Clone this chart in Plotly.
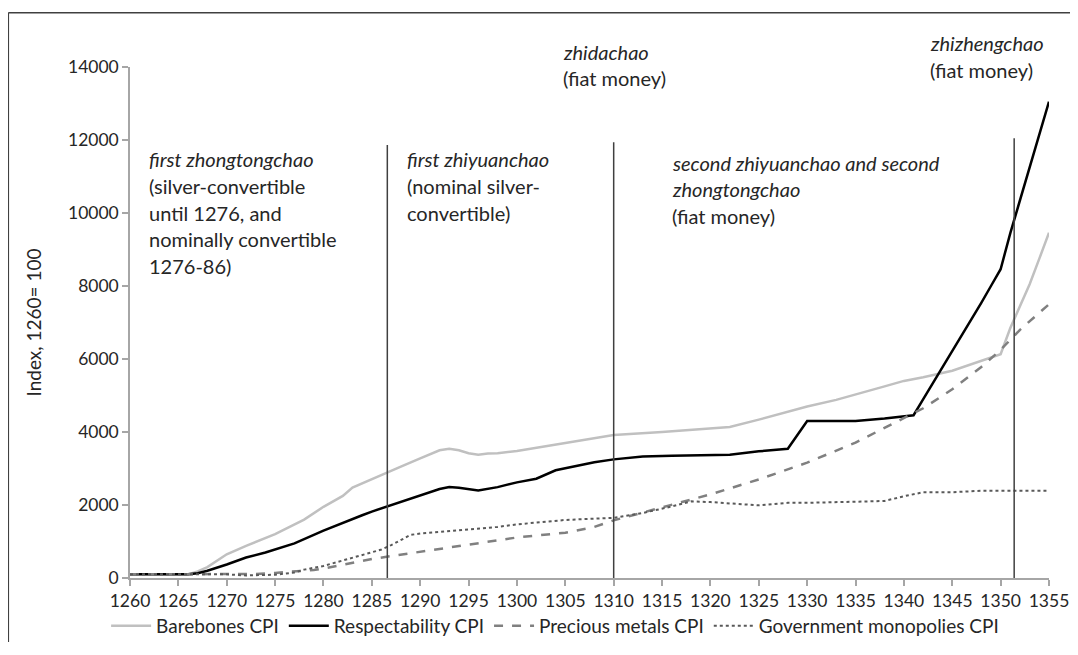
import plotly.graph_objects as go

# ---------------- data ----------------
barebones_years = [1260, 1266, 1267, 1268, 1270, 1272, 1275, 1278, 1280, 1282, 1283, 1285, 1287, 1288,
                   1290, 1291, 1292, 1293, 1294, 1295, 1296, 1297, 1298, 1300, 1305, 1310, 1315, 1320,
                   1322, 1325, 1328, 1330, 1333, 1335, 1338, 1340, 1342, 1345, 1348, 1350, 1351, 1352,
                   1353, 1354, 1355]
barebones_vals = [100, 100, 180, 300, 650, 880, 1200, 1600, 1950, 2250, 2480, 2700, 2920, 3050,
                  3280, 3380, 3500, 3540, 3500, 3420, 3380, 3410, 3420, 3480, 3700, 3920, 4000, 4090,
                  4140, 4340, 4550, 4700, 4880, 5020, 5250, 5400, 5500, 5680, 5950, 6130, 6850, 7450,
                  8050, 8750, 9460]

resp_years = [1260, 1266, 1267, 1268, 1270, 1272, 1274, 1275, 1277, 1280, 1282, 1284, 1285, 1287,
              1290, 1292, 1293, 1294, 1296, 1298, 1300, 1302, 1304, 1306, 1308, 1310, 1313, 1316,
              1320, 1322, 1325, 1328, 1330, 1335, 1338, 1341, 1342, 1343, 1344, 1345, 1346, 1347,
              1348, 1349, 1350, 1351, 1352, 1353, 1354, 1355]
resp_vals = [100, 100, 130, 200, 370, 560, 700, 790, 950, 1300, 1520, 1720, 1820, 2000,
             2280, 2440, 2490, 2470, 2400, 2490, 2620, 2720, 2950, 3060, 3170, 3250, 3330, 3350,
             3370, 3380, 3470, 3540, 4300, 4300, 4370, 4460, 4900, 5340, 5780, 6210, 6650, 7080,
             7540, 8000, 8460, 9450, 10350, 11250, 12150, 13050]

metals_years = [1260, 1270, 1273, 1275, 1277, 1279, 1280, 1282, 1283, 1285, 1287, 1290, 1295, 1300,
                1305, 1308, 1310, 1312, 1315, 1318, 1320, 1325, 1330, 1335, 1340, 1342, 1345, 1348,
                1350, 1352, 1355]
metals_vals = [100, 100, 110, 140, 170, 220, 260, 370, 430, 520, 600, 720, 920, 1110,
               1240, 1400, 1580, 1720, 1920, 2130, 2290, 2700, 3160, 3710, 4390, 4650, 5170, 5780,
               6250, 6800, 7500]

gov_years = [1260, 1270, 1272, 1275, 1277, 1278, 1280, 1282, 1284, 1286, 1287, 1288, 1289, 1290,
             1292, 1295, 1298, 1300, 1305, 1310, 1313, 1316, 1318, 1320, 1322, 1325, 1328, 1330,
             1335, 1338, 1340, 1342, 1345, 1348, 1355]
gov_vals = [100, 100, 70, 90, 150, 230, 330, 480, 620, 780, 900, 1050, 1180, 1220,
            1260, 1320, 1400, 1470, 1590, 1650, 1780, 1960, 2100, 2080, 2040, 1990, 2060, 2060,
            2090, 2110, 2240, 2350, 2350, 2390, 2390]

series_names = ["Barebones CPI", "Respectability CPI", "Precious metals CPI",
                "Government monopolies CPI"]

regime_break_years = [1286.6, 1310, 1351.4]
regime_break_tops = [11860, 11940, 12050]

x_ticks = list(range(1260, 1356, 5))
y_ticks = list(range(0, 14001, 2000))
y_ticktext = [str(v) for v in y_ticks]

FONT = "Lato"
TXT = "#262626"

fig = go.Figure()

fig.add_trace(go.Scatter(x=barebones_years, y=barebones_vals, mode="lines", name=series_names[0],
                         line=dict(color="#c0c0c0", width=2.5)))
fig.add_trace(go.Scatter(x=resp_years, y=resp_vals, mode="lines", name=series_names[1],
                         line=dict(color="#000000", width=2.5)))
fig.add_trace(go.Scatter(x=metals_years, y=metals_vals, mode="lines", name=series_names[2],
                         line=dict(color="#808080", width=2.5, dash="dash")))
fig.add_trace(go.Scatter(x=gov_years, y=gov_vals, mode="lines", name=series_names[3],
                         line=dict(color="#595959", width=2, dash="dot")))

for yr, top in zip(regime_break_years, regime_break_tops):
    fig.add_shape(type="line", xref="x", yref="y", x0=yr, x1=yr, y0=0, y1=top,
                  line=dict(color="#404040", width=1.5))

# outer frame (top and left edges visible)
fig.add_shape(type="line", xref="paper", yref="paper", x0=-0.1324, x1=1.2, y0=1.1063, y1=1.1063,
              line=dict(color="#404040", width=1.5))
fig.add_shape(type="line", xref="paper", yref="paper", x0=-0.1324, x1=-0.1324, y0=-0.3, y1=1.1063,
              line=dict(color="#404040", width=1.5))

# annotations inside the plot: (x year, y value, text)
ann_lines = [
    (1261.73, 11474, "<i>first zhongtongchao</i>"),
    (1261.73, 10741, "(silver-convertible"),
    (1261.73, 10011, "until 1276, and"),
    (1261.73, 9278, "nominally convertible"),
    (1261.73, 8545, "1276-86)"),
    (1288.43, 11474, "<i>first zhiyuanchao</i>"),
    (1288.43, 10741, "(nominal silver-"),
    (1288.43, 10011, "convertible)"),
    (1315.82, 11383, "<i>second zhiyuanchao and second</i>"),
    (1315.82, 10651, "<i>zhongtongchao</i>"),
    (1315.82, 9918, "(fiat money)"),
]
for ax, ay, t in ann_lines:
    fig.add_annotation(x=ax, y=ay, xref="x", yref="y", text=t, showarrow=False,
                       xanchor="left", yanchor="middle",
                       font=dict(family=FONT, size=20, color=TXT))

# annotations above the plot area (paper y)
top_lines = [
    (1304.55, 1.030, "<i>zhidachao</i>"),
    (1304.55, 0.978, "(fiat money)"),
    (1342.52, 1.0464, "<i>zhizhengchao</i>"),
    (1342.52, 0.994, "(fiat money)"),
]
for ax, ay, t in top_lines:
    fig.add_annotation(x=ax, y=ay, xref="x", yref="paper", text=t, showarrow=False,
                       xanchor="left", yanchor="middle",
                       font=dict(family=FONT, size=20, color=TXT))

fig.update_layout(
    width=1062, height=634,
    margin=dict(l=122, r=21, t=59, b=64, autoexpand=False),
    paper_bgcolor="white", plot_bgcolor="white",
    font=dict(family=FONT, size=17.5, color=TXT),
    showlegend=True,
    legend=dict(orientation="h", x=-0.026, y=-0.0939, xref="paper", yref="paper",
                xanchor="left", yanchor="middle",
                font=dict(family=FONT, size=19, color=TXT), itemwidth=40,
                bgcolor="rgba(0,0,0,0)"),
    xaxis=dict(range=[1260, 1355], tickmode="array", tickvals=x_ticks,
               showgrid=False, zeroline=False, showline=True, linecolor="#a6a6a6", linewidth=1.5,
               ticks="outside", ticklen=6, tickcolor="#a6a6a6", tickwidth=1.5,
               ticklabeloverflow="allow",
               tickfont=dict(family=FONT, size=17.5, color=TXT)),
    yaxis=dict(range=[0, 14000], tickmode="array", tickvals=y_ticks, ticktext=y_ticktext,
               showgrid=False, zeroline=False, showline=True, linecolor="#a6a6a6", linewidth=1.5,
               ticks="outside", ticklen=6, tickcolor="#a6a6a6", tickwidth=1.5,
               tickfont=dict(family=FONT, size=17.5, color=TXT),
               title=dict(text="Index, 1260= 100", font=dict(family=FONT, size=19, color=TXT),
                          standoff=21)),
)

fig.write_html("out.html")
